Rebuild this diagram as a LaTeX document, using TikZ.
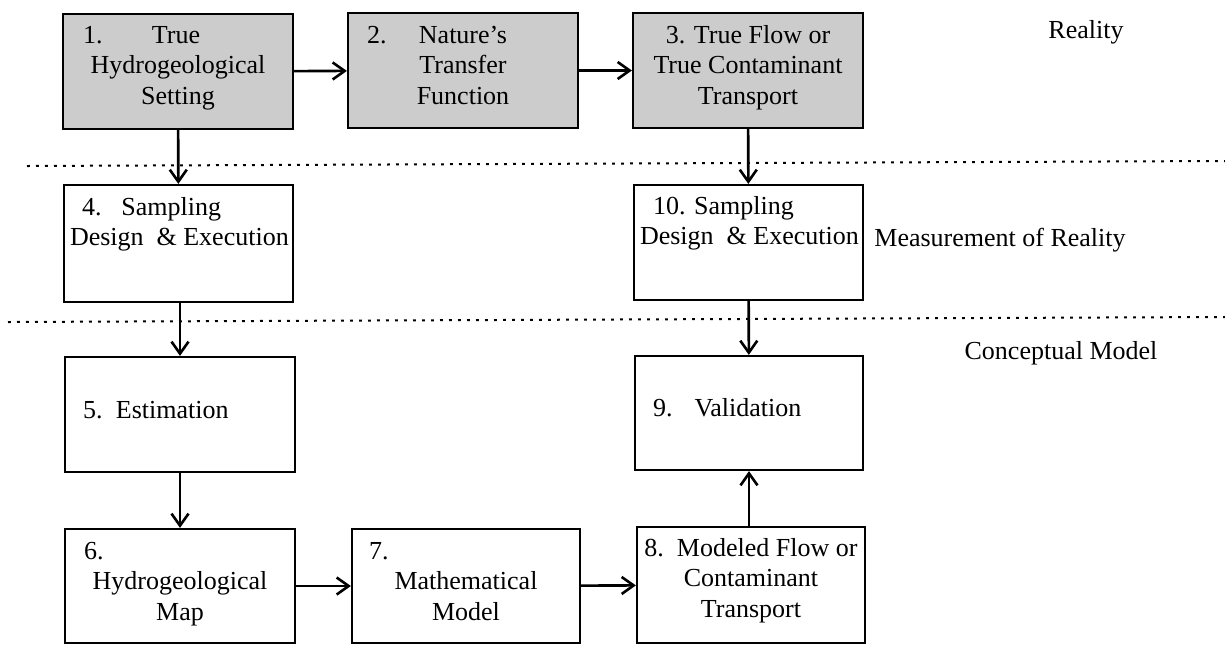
\documentclass[tikz,border=0pt]{standalone}
\usepackage{fontspec}
\setmainfont{Liberation Serif}
\usetikzlibrary{arrows.meta,calc}
\newcommand\BoxContent[4]{\parbox[c][#2][t]{#1}{\vspace*{\dimexpr#3-0.7\baselineskip\relax}#4}}
\tikzset{
  box/.style={draw, line width=1.1pt, inner sep=0pt, rectangle},
  gbox/.style={box, fill=black!20},
  arr/.style={-{Straight Barb[length=6pt,width=8.5pt,line width=1.3pt]}, line width=1.3pt},
  sepline/.style={line width=1pt, dash pattern=on 1.4pt off 3.1pt},
  lab/.style={inner sep=0pt},
}
\begin{document}
\begin{tikzpicture}[x=0.5pt,y=-0.5pt,font=\fontsize{13}{15.3}\selectfont]
\useasboundingbox (0,0) rectangle (1225,644);
% separators
\coordinate (d1a) at (27,166);
\coordinate (d1b) at (1225,161);
\coordinate (d2a) at (8,322);
\coordinate (d2b) at (1225,317);
\draw[sepline] (d1a) -- (d1b);
\draw[sepline] (d2a) -- (d2b);
% reality row
\node[gbox] (b1) at (178,71.5) {\BoxContent{115pt}{57.5pt}{14.5pt}{\centering\strut\makebox[\linewidth][l]{\hspace*{10pt}1.\hspace{24.75pt}True}\\Hydrogeological\\Setting}};
\node[gbox] (b2) at (463,70.5) {\BoxContent{115pt}{57.5pt}{15pt}{\centering\strut\makebox[\linewidth]{\rlap{\hspace*{9.5pt}2.}\hfill Nature's\hfill}\\Transfer\\Function}};
\node[gbox] (b3) at (748,70.5) {\BoxContent{115pt}{57.5pt}{15pt}{\centering\strut 3. True Flow or\\True Contaminant\\Transport}};
% measurement row
\node[box] (b4) at (178.5,243.5) {\BoxContent{114.5pt}{58.5pt}{15pt}{\raggedright\strut\hspace*{9pt}4.\hspace{10pt}Sampling\\\hspace*{3pt}Design\ \ \&\ Execution}};
\node[box] (b10) at (748.5,242.5) {\BoxContent{114.5pt}{57.5pt}{14.5pt}{\raggedright\strut\hspace*{9.5pt}10. Sampling\\\hspace*{3pt}Design\ \ \&\ Execution}};
% conceptual model
\node[box] (b5) at (180,414.5) {\BoxContent{115pt}{57.5pt}{30.5pt}{\raggedright\strut\hspace*{9pt}5.\hspace{6.75pt}Estimation}};
\node[box] (b9) at (749,413) {\BoxContent{114pt}{57pt}{30pt}{\raggedright\strut\hspace*{9pt}9.\hspace{11pt}Validation}};
\node[box] (b6) at (180,586) {\BoxContent{115pt}{57pt}{15pt}{\centering\strut\makebox[\linewidth][l]{\hspace*{9.5pt}6.}\\Hydrogeological\\Map}};
\node[box] (b7) at (466,586) {\BoxContent{114pt}{57pt}{15pt}{\centering\strut\makebox[\linewidth][l]{\hspace*{8.5pt}7.}\\Mathematical\\Model}};
\node[box] (b8) at (751,585) {\BoxContent{114pt}{58pt}{14.5pt}{\centering\strut 8.\ \ Modeled Flow or\\Contaminant\\Transport}};
% labels
\node[lab] (reality) at (1086,32) {Reality};
\node[lab] (meas) at (1000,240) {Measurement of Reality};
\node[lab] (concept) at (1061,353) {Conceptual Model};
% connectors
\draw[arr] (b1) -- (b2);
\draw[arr] (b2) -- (b3);
\draw[arr] (b1) -- (b4);
\draw[arr] (b3) -- (b10);
\draw[arr] (b4.south -| b5.north) -- (b5.north);
\draw[arr] (b5) -- (b6);
\draw[arr] (b6) -- (b7);
\draw[arr] (b7) -- (b8);
\draw[arr] (b10) -- (b9);
\draw[arr] (b9.south |- b8.north) -- (b9.south);
\end{tikzpicture}
\end{document}
